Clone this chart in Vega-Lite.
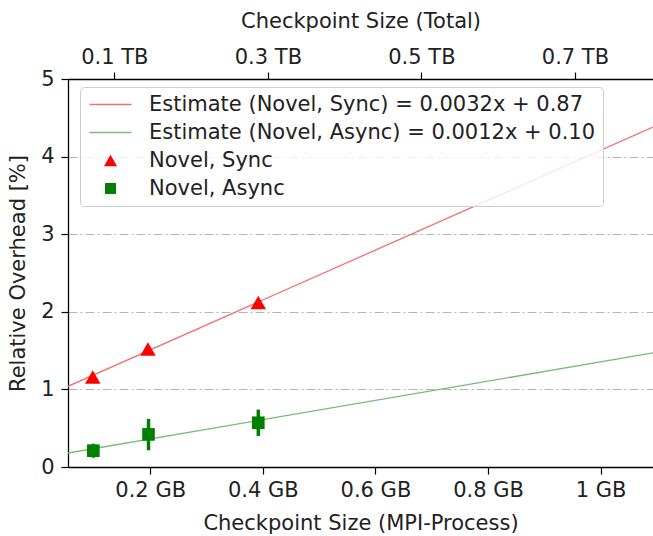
{
  "$schema": "https://vega.github.io/schema/vega-lite/v6.json",
  "autosize": "none",
  "padding": {"left": 68, "top": 79, "right": 0, "bottom": 69},
  "width": 585,
  "height": 388,
  "config": {
    "font": "DejaVu Sans",
    "view": {"stroke": null},
    "axis": {
      "labelFont": "DejaVu Sans",
      "titleFont": "DejaVu Sans",
      "labelFontSize": 21,
      "titleFontSize": 21,
      "titleFontWeight": "normal",
      "labelColor": "#222222",
      "titleColor": "#222222",
      "domainColor": "#000000",
      "domainWidth": 1.3,
      "tickColor": "#000000",
      "tickWidth": 1.2,
      "tickSize": 7,
      "labelPadding": 5,
      "grid": false
    }
  },
  "layer": [
    {
      "layer": [
        {
          "data": {"values": [
            {"series": "Estimate (Novel, Sync) = 0.0032x + 0.87", "gb": 0.054, "pct": 1.04},
            {"series": "Estimate (Novel, Sync) = 0.0032x + 0.87", "gb": 1.093, "pct": 4.38},
            {"series": "Estimate (Novel, Async) = 0.0012x + 0.10", "gb": 0.054, "pct": 0.18},
            {"series": "Estimate (Novel, Async) = 0.0012x + 0.10", "gb": 1.093, "pct": 1.47}
          ]},
          "mark": {"type": "line", "strokeWidth": 1.3, "clip": true},
          "encoding": {
            "x": {"field": "gb", "type": "quantitative",
              "scale": {"domain": [0.054, 1.093], "nice": false, "zero": false},
              "axis": {"orient": "bottom", "values": [0.2, 0.4, 0.6, 0.8, 1.0],
                "labelExpr": "datum.value == 1 ? '1 GB' : format(datum.value, '.1f') + ' GB'",
                "title": "Checkpoint Size (MPI-Process)", "titlePadding": 12}},
            "y": {"field": "pct", "type": "quantitative",
              "scale": {"domain": [0, 5], "nice": false, "zero": false},
              "axis": {"values": [0, 1, 2, 3, 4, 5], "format": "d", "title": "Relative Overhead [%]",
                "grid": true, "gridColor": "#b5b5b5", "gridWidth": 1, "gridDash": [9, 3, 2, 3],
                "labelPadding": 7, "titlePadding": 12}},
            "color": {"field": "series", "type": "nominal",
              "scale": {
                "domain": ["Estimate (Novel, Sync) = 0.0032x + 0.87", "Estimate (Novel, Async) = 0.0012x + 0.10", "Novel, Sync", "Novel, Async"],
                "range": ["#f27070", "#78bb78", "#ff0000", "#008000"]},
              "legend": {
                "title": null,
                "orient": "none",
                "legendX": 12,
                "legendY": 8,
                "labelFont": "DejaVu Sans",
                "labelFontSize": 21,
                "labelColor": "#222222",
                "labelLimit": 1000,
                "fillColor": "rgba(255,255,255,0.8)",
                "strokeColor": "#cccccc",
                "cornerRadius": 4,
                "padding": 7,
                "rowPadding": 6,
                "symbolSize": 100,
                "symbolOffset": 13,
                "labelOffset": 28,
                "encode": {
                  "symbols": {"update": {
                    "shape": {"signal": "datum.value == 'Novel, Sync' ? 'triangle-up' : (datum.value == 'Novel, Async' ? 'square' : 'stroke')"},
                    "size": {"signal": "datum.value == 'Novel, Sync' ? 170 : (datum.value == 'Novel, Async' ? 120 : 1764)"},
                    "fill": {"signal": "datum.value == 'Novel, Sync' ? '#ff0000' : (datum.value == 'Novel, Async' ? '#008000' : 'transparent')"},
                    "stroke": {"signal": "datum.value == 'Novel, Sync' ? '#ff0000' : (datum.value == 'Novel, Async' ? '#008000' : scale('color', datum.value))"},
                    "strokeWidth": {"signal": "datum.value == 'Novel, Sync' || datum.value == 'Novel, Async' ? 0 : 1.5"},
                    "opacity": {"value": 1}
                  }}
                }
              }}
          }
        },
        {
          "data": {"values": [
            {"series": "Novel, Async", "gb": 0.099, "lo": 0.12, "hi": 0.30},
            {"series": "Novel, Async", "gb": 0.197, "lo": 0.215, "hi": 0.62},
            {"series": "Novel, Async", "gb": 0.392, "lo": 0.40, "hi": 0.74}
          ]},
          "mark": {"type": "rule", "strokeWidth": 3.5, "color": "#008000"},
          "encoding": {
            "x": {"field": "gb", "type": "quantitative"},
            "y": {"field": "lo", "type": "quantitative"},
            "y2": {"field": "hi"}
          }
        },
        {
          "data": {"values": [
            {"series": "Novel, Sync", "gb": 0.098, "pct": 1.16},
            {"series": "Novel, Sync", "gb": 0.196, "pct": 1.52},
            {"series": "Novel, Sync", "gb": 0.392, "pct": 2.12}
          ]},
          "mark": {"type": "point", "filled": true, "opacity": 1, "size": 240, "shape": "triangle-up"},
          "encoding": {
            "x": {"field": "gb", "type": "quantitative"},
            "y": {"field": "pct", "type": "quantitative"},
            "color": {"field": "series", "type": "nominal"}
          }
        },
        {
          "data": {"values": [
            {"series": "Novel, Async", "gb": 0.099, "pct": 0.21},
            {"series": "Novel, Async", "gb": 0.197, "pct": 0.42},
            {"series": "Novel, Async", "gb": 0.392, "pct": 0.57}
          ]},
          "mark": {"type": "point", "filled": true, "opacity": 1, "size": 160, "shape": "square"},
          "encoding": {
            "x": {"field": "gb", "type": "quantitative"},
            "y": {"field": "pct", "type": "quantitative"},
            "color": {"field": "series", "type": "nominal"}
          }
        }
      ]
    },
    {
      "data": {"values": [{"tb": 0.0396}, {"tb": 0.8017}]},
      "mark": {"type": "point", "opacity": 0},
      "encoding": {
        "x": {"field": "tb", "type": "quantitative",
          "scale": {"domain": [0.0396, 0.8017], "nice": false, "zero": false},
          "axis": {"orient": "top", "values": [0.1, 0.3, 0.5, 0.7],
            "labelExpr": "format(datum.value, '.1f') + ' TB'",
            "title": "Checkpoint Size (Total)", "titlePadding": 15}}
      }
    }
  ],
  "resolve": {"scale": {"x": "independent"}, "axis": {"x": "independent"}}
}
